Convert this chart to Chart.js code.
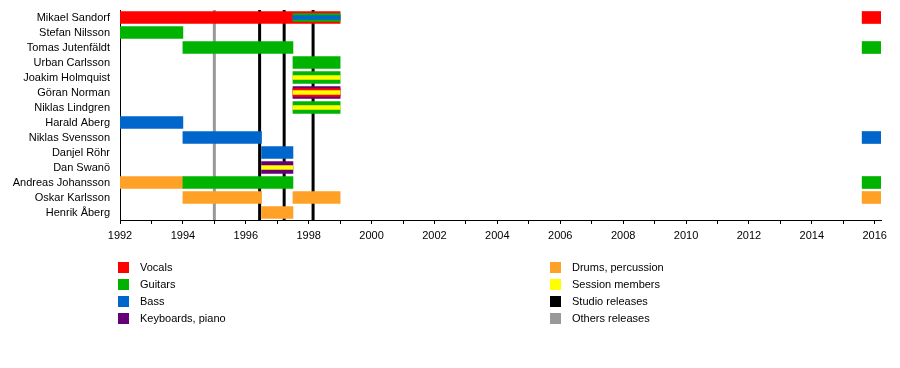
<!DOCTYPE html>
<html>
<head>
<meta charset="utf-8">
<script src="https://cdn.jsdelivr.net/npm/chart.js@4/dist/chart.umd.min.js"></script>
<style>
  body { margin: 0; background: #fff; font-family: "Liberation Sans", Arial, sans-serif; }
  #wrap { position: relative; width: 900px; height: 368px; }
  .key { position: absolute; font-size: 11px; color: #000; line-height: 11px; }
  .key span { position: absolute; left: 0; top: 0; width: 11px; height: 11px; }
  .key b { position: absolute; left: 22px; top: 0; font-weight: normal; white-space: nowrap; }
</style>
</head>
<body>
<div id="wrap">
  <canvas id="timeline" width="900" height="368"></canvas>
</div>
<script>
// band members, top to bottom
const members = ['Mikael Sandorf', 'Stefan Nilsson', 'Tomas Jutenfäldt', 'Urban Carlsson',
  'Joakim Holmquist', 'Göran Norman', 'Niklas Lindgren', 'Harald Aberg', 'Niklas Svensson',
  'Danjel Röhr', 'Dan Swanö', 'Andreas Johansson', 'Oskar Karlsson', 'Henrik Åberg'];

// [member, from, to]
const vocals = [['Mikael Sandorf', 1992, 1999], ['Mikael Sandorf', 2015.6, 2016.2]];
const guitars = [['Stefan Nilsson', 1992, 1994], ['Tomas Jutenfäldt', 1994, 1997.5],
  ['Tomas Jutenfäldt', 2015.6, 2016.2], ['Urban Carlsson', 1997.5, 1999],
  ['Joakim Holmquist', 1997.5, 1999], ['Niklas Lindgren', 1997.5, 1999],
  ['Andreas Johansson', 1994, 1997.5], ['Andreas Johansson', 2015.6, 2016.2]];
const bass = [['Harald Aberg', 1992, 1994], ['Niklas Svensson', 1994, 1996.5],
  ['Niklas Svensson', 2015.6, 2016.2], ['Danjel Röhr', 1996.5, 1997.5]];
const keyboards = [['Göran Norman', 1997.5, 1999], ['Dan Swanö', 1996.5, 1997.5]];
const drums = [['Andreas Johansson', 1992, 1994], ['Oskar Karlsson', 1994, 1996.5],
  ['Oskar Karlsson', 1997.5, 1999], ['Oskar Karlsson', 2015.6, 2016.2],
  ['Henrik Åberg', 1996.5, 1997.5]];
// secondary roles (narrower bars)
const guitars2 = [['Mikael Sandorf', 1997.5, 1999]];
const vocals2 = [['Göran Norman', 1997.5, 1999]];
const bass3 = [['Mikael Sandorf', 1997.5, 1999]];
const session = [['Joakim Holmquist', 1997.5, 1999], ['Göran Norman', 1997.5, 1999],
  ['Niklas Lindgren', 1997.5, 1999], ['Dan Swanö', 1996.5, 1997.5]];

const studioReleases = [1996.44, 1997.22, 1998.14];
const otherReleases = [1995.0];

const yearMin = 1992;
const yearMax = 2016.2;
const lastTick = 2016;

const legendLeft = [['Vocals', '#ff0000'], ['Guitars', '#00b300'], ['Bass', '#0066cc'], ['Keyboards, piano', '#660077']];
const legendRight = [['Drums, percussion', '#ffa126'], ['Session members', '#ffff00'], ['Studio releases', '#000000'], ['Others releases', '#999999']];

const COLORS = {
    vocals: '#ff0000', guitars: '#00b300', bass: '#0066cc', keys: '#660077',
    drums: '#ffa126', session: '#ffff00', studio: '#000000', other: '#999999'
};

function toBars(list) {
    return list.map(r => ({ x: [r[1], r[2]], y: r[0] }));
}

function barSet(list, color, thickness, order) {
    return {
        data: toBars(list),
        backgroundColor: color,
        barThickness: thickness,
        grouped: false,
        order: order,
        borderWidth: 0,
        borderSkipped: false
    };
}

const releaseLines = {
    id: 'releaseLines',
    beforeDatasetsDraw(chart) {
        const { ctx, chartArea, scales } = chart;
        ctx.save();
        ctx.lineWidth = 3;
        const draw = (years, color) => {
            ctx.strokeStyle = color;
            years.forEach(y => {
                const px = scales.x.getPixelForValue(y);
                ctx.beginPath();
                ctx.moveTo(px, chartArea.top);
                ctx.lineTo(px, chartArea.bottom);
                ctx.stroke();
            });
        };
        draw(otherReleases, COLORS.other);
        draw(studioReleases, COLORS.studio);
        ctx.restore();
    }
};

Chart.defaults.font.family = '"Liberation Sans", Arial, sans-serif';
Chart.defaults.font.size = 11;
Chart.defaults.color = '#000';

new Chart(document.getElementById('timeline'), {
    type: 'bar',
    data: {
        labels: members,
        datasets: [
            barSet(vocals, COLORS.vocals, 12, 3),
            barSet(guitars, COLORS.guitars, 12, 3),
            barSet(bass, COLORS.bass, 12, 3),
            barSet(keyboards, COLORS.keys, 12, 3),
            barSet(drums, COLORS.drums, 12, 3),
            barSet(guitars2, COLORS.guitars, 8, 2),
            barSet(vocals2, COLORS.vocals, 8, 2),
            barSet(bass3, COLORS.bass, 4, 1),
            barSet(session, COLORS.session, 4, 1)
        ]
    },
    options: {
        indexAxis: 'y',
        responsive: false,
        animation: false,
        layout: { padding: { top: 10, right: 19, bottom: 123, left: 0 } },
        plugins: { legend: { display: false }, tooltip: { enabled: false } },
        scales: {
            x: {
                type: 'linear',
                min: yearMin,
                max: yearMax,
                grid: { drawOnChartArea: false, drawTicks: true, tickLength: 4, color: '#000' },
                border: { display: true, color: '#000', width: 1 },
                ticks: {
                    autoSkip: false,
                    maxRotation: 0,
                    padding: 5,
                    callback: v => (v % 2 === 0 ? String(v) : '')
                },
                afterBuildTicks(scale) {
                    // one tick per year, labels on even years only
                    const ticks = [];
                    for (let y = yearMin; y <= lastTick; y++) ticks.push({ value: y });
                    scale.ticks = ticks;
                },
                afterFit(scale) {
                    scale.height = 25;
                    scale.paddingLeft = 0;
                    scale.paddingRight = 0;
                }
            },
            y: {
                type: 'category',
                grid: { display: false, drawTicks: false },
                border: { display: true, color: '#000', width: 1 },
                ticks: { padding: 10, autoSkip: false },
                afterFit(scale) {
                    scale.width = 120;
                    scale.paddingTop = 0;
                    scale.paddingBottom = 0;
                }
            }
        }
    },
    plugins: [releaseLines]
});

// two-column key under the chart
const wrap = document.getElementById('wrap');
function addKey(items, left) {
    items.forEach((it, i) => {
        const el = document.createElement('div');
        el.className = 'key';
        el.style.left = left + 'px';
        el.style.top = (262 + i * 17) + 'px';
        el.innerHTML = '<span style="background:' + it[1] + '"></span><b>' + it[0] + '</b>';
        wrap.appendChild(el);
    });
}
addKey(legendLeft, 118);
addKey(legendRight, 550);
</script>
</body>
</html>
